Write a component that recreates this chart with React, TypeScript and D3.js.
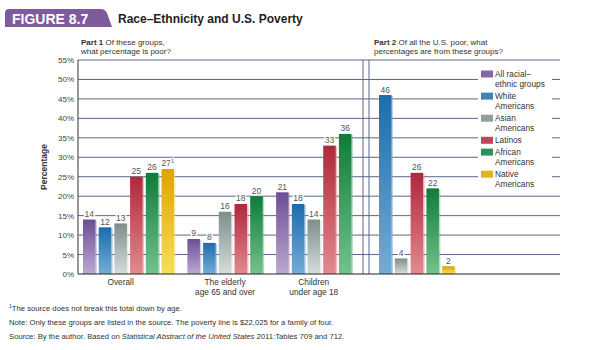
// chart: Race–Ethnicity and U.S. Poverty (Figure 8.7)
import * as d3 from "d3";

// the six groups, in the order they are drawn
const series = [
  "All racial–ethnic groups",
  "White Americans",
  "Asian Americans",
  "Latinos",
  "African Americans",
  "Native Americans",
];

// legend lines (wrapped as in the figure)
const legendLines = [
  ["All racial–", "ethnic groups"],
  ["White", "Americans"],
  ["Asian", "Americans"],
  ["Latinos"],
  ["African", "Americans"],
  ["Native", "Americans"],
];

// part 1 categories
const groups = ["Overall", "The elderly", "Children"];
const groupLabels = [["Overall"], ["The elderly", "age 65 and over"], ["Children", "under age 18"]];

// part 1 values: percentage of each group that is poor (null = not reported)
const overall = [14, 12, 13, 25, 26, 27];
const elderly = [9, 8, 16, 18, 20, null];
const children = [21, 18, 14, 33, 36, null];
const part1Values = [overall, elderly, children];

// part 2 values: share of all the poor from each group
const part2Values = [null, 46, 4, 26, 22, 2];

// y axis ticks
const yTicks = [0, 5, 10, 15, 20, 25, 30, 35, 40, 45, 50, 55];

// colours: dark top, light bottom
const colorsTop = ["#6d4e95", "#1b6dac", "#7d8e8b", "#ae283b", "#0d7c39", "#dfa300"];
const colorsBottom = ["#bba9d2", "#74acd8", "#d6dedc", "#e38a8f", "#74c28c", "#f6de5c"];

const FONT = "'Liberation Sans', Arial, sans-serif";
const gridColor = "#56668a";
const labelColor = "#555";

export default function App() {
  const width = 595;
  const height = 350;
  const barW = 12.5;

  // y scale shared by both parts
  const y = d3.scaleLinear().domain([0, 55]).range([274, 60]);

  // part 1: bars sit in slots, with a small extra gap between groups
  const groupGap = 0.65;
  const slotStep = 15.7;
  const part1Bars: { g: number; s: number; v: number; slot: number }[] = [];
  let slot = 0;
  part1Values.forEach((vals, g) => {
    vals.forEach((v, s) => {
      if (v == null) return;
      part1Bars.push({ g, s, v, slot });
      slot += 1;
    });
    slot += groupGap;
  });
  const x1 = d3.scaleLinear().domain([0, 1]).range([83, 83 + slotStep]);
  // labels are centred under the first five groups' bars
  const groupCenter = (g: number) => {
    const bs = part1Bars.filter((b) => b.g === g && b.s < 5);
    return (x1(bs[0].slot) + x1(bs[bs.length - 1].slot) + barW) / 2;
  };

  // part 2
  const x2 = d3.scaleLinear().domain([1, 2]).range([379, 379 + 15.8]);

  const part1Left = 78;
  const part1Right = 363;
  const part2Left = 369;
  const part2Right = 560;

  const bar = (x: number, v: number, s: number, key: string, sup?: string) => (
    <g key={key}>
      <rect x={x + 1.5} y={y(v) + 1} width={barW} height={y(0) - y(v) - 1} fill={colorsBottom[s]} opacity={0.55} />
      <rect x={x} y={y(v)} width={barW} height={y(0) - y(v)} fill={`url(#grad${s})`} />
      <text
        x={x + barW / 2}
        y={y(v) - 2.5}
        textAnchor="middle"
        fontSize={8.5}
        fill={labelColor}
        stroke="#fff"
        strokeWidth={2.5}
        paintOrder="stroke"
      >
        {v}
        {sup && (
          <tspan fontSize={5.5} dy={-3.5}>
            {sup}
          </tspan>
        )}
      </text>
    </g>
  );

  return (
    <svg width={width} height={height} style={{ position: "absolute", left: 0, top: 0 }} fontFamily={FONT}>
      <defs>
        {series.map((_, i) => (
          <linearGradient key={i} id={`grad${i}`} x1="0" y1="0" x2="0" y2="1">
            <stop offset="0%" stopColor={colorsTop[i]} />
            <stop offset="100%" stopColor={colorsBottom[i]} />
          </linearGradient>
        ))}
      </defs>
      <rect width={width} height={height} fill="#fff" />

      {/* header tab */}
      <path d="M5,27 L5,13 Q5,9 9,9 L101,9 Q105,9 107,13 L112,27 Z" fill="#7e5c9b" />
      <text x={12} y={23.5} fill="#fff" fontSize={14} fontWeight="bold">
        FIGURE 8.7
      </text>
      <text x={118} y={23} fill="#222" fontSize={12} fontWeight="bold">
        Race–Ethnicity and U.S. Poverty
      </text>

      {/* part titles */}
      <text x={81} y={45} fontSize={8} fill="#333">
        <tspan fontWeight="bold">Part 1</tspan> Of these groups,
      </text>
      <text x={81} y={54} fontSize={8} fill="#333">
        what percentage is poor?
      </text>
      <text x={374} y={45} fontSize={8} fill="#333">
        <tspan fontWeight="bold">Part 2</tspan> Of all the U.S. poor, what
      </text>
      <text x={374} y={54} fontSize={8} fill="#333">
        percentages are from these groups?
      </text>

      {/* gridlines */}
      {yTicks
        .filter((t) => t > 0)
        .map((t) => (
          <line key={t} x1={part1Left} x2={part2Right} y1={y(t)} y2={y(t)} stroke={gridColor} strokeWidth={1} />
        ))}

      {/* y tick labels */}
      {yTicks.map((t) => (
        <text key={t} x={74} y={y(t) + 3} textAnchor="end" fontSize={8} fill="#444">
          {t}%
        </text>
      ))}
      <text
        transform={`translate(47,${(y(0) + y(55)) / 2}) rotate(-90)`}
        textAnchor="middle"
        fontSize={8.5}
        fontWeight="bold"
        fill="#333"
      >
        Percentage
      </text>

      {/* axes and separators */}
      <line x1={part1Left} x2={part1Left} y1={y(55)} y2={y(0)} stroke="#333" strokeWidth={1} />
      <line x1={part1Right} x2={part1Right} y1={y(55)} y2={y(0)} stroke={gridColor} strokeWidth={1} />
      <line x1={part2Left} x2={part2Left} y1={y(55)} y2={y(0)} stroke={gridColor} strokeWidth={1} />

      {/* part 1 bars */}
      {part1Bars.map((b, i) => bar(x1(b.slot), b.v, b.s, `p1-${i}`, b.g === 0 && b.s === 5 ? "1" : undefined))}

      {/* part 2 bars */}
      {part2Values.map((v, s) => (v == null ? null : bar(x2(s), v, s, `p2-${s}`)))}

      <line x1={part1Left} x2={part2Right} y1={y(0)} y2={y(0)} stroke="#222" strokeWidth={1.2} />

      {/* group labels */}
      {groups.map((g, gi) =>
        groupLabels[gi].map((line, li) => (
          <text key={`${g}-${li}`} x={groupCenter(gi)} y={285 + li * 10} textAnchor="middle" fontSize={8.3} fill="#333">
            {line}
          </text>
        ))
      )}

      {/* legend */}
      <rect x={478} y={63} width={74} height={127} fill="#fff" />
      {(() => {
        let ly = 77;
        return series.map((s, i) => {
          const top = ly;
          ly += legendLines[i].length * 10.3 + 1.5;
          return (
            <g key={s}>
              <rect x={481} y={top - 6.5} width={12} height={7} fill={colorsTop[i]} opacity={0.85} />
              {legendLines[i].map((l, li) => (
                <text key={li} x={495} y={top + li * 10} fontSize={8.3} fill="#333">
                  {l}
                </text>
              ))}
            </g>
          );
        });
      })()}

      {/* footnotes */}
      <text x={9} y={311} fontSize={7.7} fill="#333">
        <tspan fontSize={5} dy={-3}>1</tspan>
        <tspan dy={3}>The source does not break this total down by age.</tspan>
      </text>
      <text x={9} y={325} fontSize={7.7} fill="#333">
        Note: Only these groups are listed in the source. The poverty line is $22,025 for a family of four.
      </text>
      <text x={9} y={339} fontSize={7.7} fill="#333">
        Source: By the author. Based on <tspan fontStyle="italic">Statistical Abstract of the United States</tspan> 2011:Tables 709 and 712.
      </text>
    </svg>
  );
}
